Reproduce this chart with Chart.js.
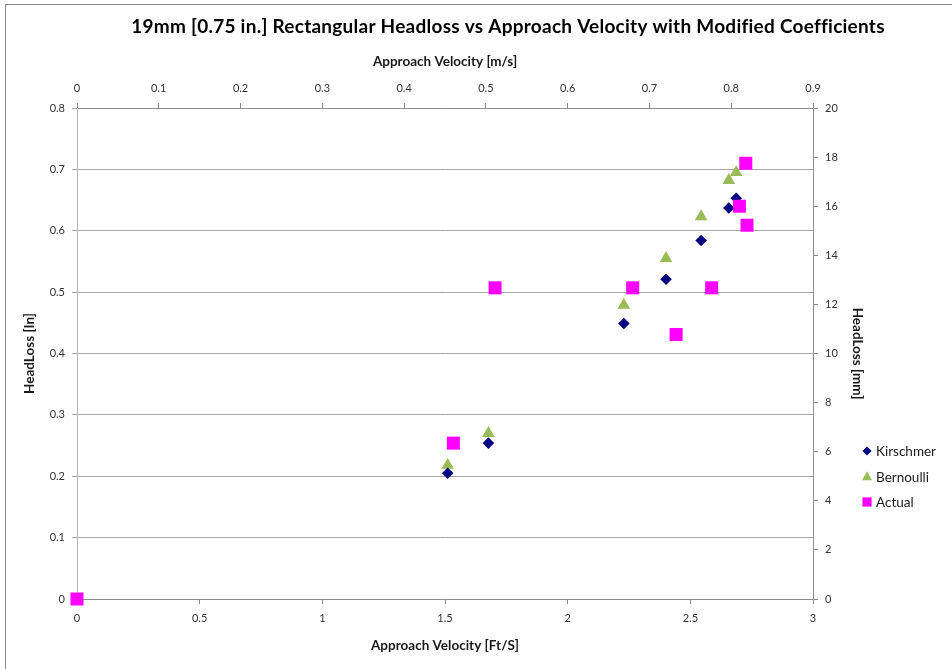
<!DOCTYPE html>
<html>
<head>
<meta charset="utf-8">
<script src="https://cdn.jsdelivr.net/npm/chart.js@4.4.1/dist/chart.umd.min.js"></script>
<style>
  html, body { margin: 0; padding: 0; background: #ffffff; }
  #wrap { position: relative; width: 952px; height: 669px; }
  canvas { display: block; }
</style>
</head>
<body>
<div id="wrap"><canvas id="chart" width="952" height="669"></canvas></div>
<script>
// Approach velocity [ft/s] shared by both predicted series
const predVelocity = [1.511, 1.677, 2.229, 2.401, 2.544, 2.657, 2.687];
// Predicted head loss [in]
const kirschmer = [0.205, 0.254, 0.449, 0.521, 0.584, 0.637, 0.653];
const bernoulli = [0.218, 0.270, 0.479, 0.555, 0.623, 0.682, 0.695];
// Measured points: velocity [ft/s] and head loss [in]
const actualVelocity = [0, 1.534, 1.704, 2.265, 2.442, 2.587, 2.726, 2.700, 2.731];
const actualHeadLoss = [0, 0.254, 0.507, 0.507, 0.431, 0.507, 0.710, 0.640, 0.609];

// Axis tick values
const ftTicks = [0, 0.5, 1, 1.5, 2, 2.5, 3];
const msTicks = [0, 0.1, 0.2, 0.3, 0.4, 0.5, 0.6, 0.7, 0.8, 0.9];
const inTicks = [0, 0.1, 0.2, 0.3, 0.4, 0.5, 0.6, 0.7, 0.8];
const mmTicks = [0, 2, 4, 6, 8, 10, 12, 14, 16, 18, 20];

const seriesNames = ['Kirschmer', 'Bernoulli', 'Actual'];
const chartTitle = '19mm [0.75 in.] Rectangular Headloss vs Approach Velocity with Modified Coefficients';

const FONT = 'Lato, "Open Sans", "Liberation Sans", sans-serif';
const navy = '#000080';
const green = '#9BBB59';
const magenta = '#FF00FF';

const toPoints = (xs, ys) => xs.map((x, i) => ({ x: x, y: ys[i] }));
const fixedTicks = list => scale => { scale.ticks = list.map(v => ({ value: v })); };
const plainLabel = v => String(Number(v.toFixed(3)));

function marker(ctx, style, x, y, r, color) {
  ctx.save();
  ctx.fillStyle = color;
  ctx.beginPath();
  if (style === 'rectRot') {
    ctx.moveTo(x, y - r); ctx.lineTo(x + r, y); ctx.lineTo(x, y + r); ctx.lineTo(x - r, y);
  } else if (style === 'triangle') {
    ctx.moveTo(x, y - r); ctx.lineTo(x + r * 0.95, y + r * 0.7); ctx.lineTo(x - r * 0.95, y + r * 0.7);
  } else {
    ctx.rect(x - r, y - r, 2 * r, 2 * r);
  }
  ctx.closePath();
  ctx.fill();
  ctx.restore();
}

// Background, frame, heading and series key
const decor = {
  id: 'decor',
  beforeDraw(chart) {
    const ctx = chart.ctx;
    ctx.save();
    ctx.fillStyle = '#ffffff';
    ctx.fillRect(0, 0, chart.width, chart.height);
    ctx.restore();
  },
  afterDraw(chart) {
    const ctx = chart.ctx;
    ctx.save();
    ctx.strokeStyle = '#8c8c8c';
    ctx.lineWidth = 1;
    ctx.strokeRect(5.5, 4.5, chart.width + 20, chart.height + 20);

    ctx.fillStyle = '#000000';
    ctx.font = 'bold 19px ' + FONT;
    if ('letterSpacing' in ctx) ctx.letterSpacing = '0.25px';
    ctx.textAlign = 'center';
    ctx.textBaseline = 'middle';
    ctx.fillText(chartTitle, 508, 27);
    if ('letterSpacing' in ctx) ctx.letterSpacing = '0px';

    const styles = ['rectRot', 'triangle', 'rect'];
    const colors = [navy, green, magenta];
    const sizes = [4.6, 5.2, 4.6];
    ctx.font = '13.5px ' + FONT;
    ctx.textAlign = 'left';
    seriesNames.forEach((name, i) => {
      const y = 451 + i * 25.5;
      marker(ctx, styles[i], 867, y, sizes[i], colors[i]);
      ctx.fillStyle = '#1a1a1a';
      ctx.fillText(name, 876, y + 1);
    });
    ctx.restore();
  }
};

const tickFont = { family: FONT, size: 11 };
const titleFont = { family: FONT, size: 13.5, weight: 'bold' };

new Chart(document.getElementById('chart'), {
  type: 'scatter',
  data: {
    datasets: [
      { label: seriesNames[0], data: toPoints(predVelocity, kirschmer), pointStyle: 'rectRot',
        pointRadius: 5.8, pointHoverRadius: 5.8, backgroundColor: navy, borderColor: navy, borderWidth: 0,
        order: 1, clip: false, xAxisID: 'x', yAxisID: 'y' },
      { label: seriesNames[1], data: toPoints(predVelocity, bernoulli), pointStyle: 'triangle',
        pointRadius: 7.3, pointHoverRadius: 7.3, backgroundColor: green, borderColor: green, borderWidth: 0,
        order: 2, clip: false, xAxisID: 'x', yAxisID: 'y' },
      { label: seriesNames[2], data: toPoints(actualVelocity, actualHeadLoss), pointStyle: 'rect',
        pointRadius: 9.2, pointHoverRadius: 9.2, backgroundColor: magenta, borderColor: magenta, borderWidth: 0,
        order: 0, clip: false, xAxisID: 'x', yAxisID: 'y' }
    ]
  },
  options: {
    responsive: false,
    animation: false,
    devicePixelRatio: 1,
    layout: { padding: { left: 18, right: 83, top: 50, bottom: 11 } },
    plugins: {
      legend: { display: false },
      title: { display: false },
      tooltip: { enabled: false }
    },
    scales: {
      x: {
        type: 'linear', position: 'bottom', min: 0, max: 3,
        afterBuildTicks: fixedTicks(ftTicks),
        afterFit: s => { s.height = 59; },
        grid: { drawOnChartArea: false, drawTicks: true, tickLength: 5, tickColor: '#8c8c8c' },
        border: { color: '#8c8c8c', width: 1 },
        ticks: { font: tickFont, color: '#333333', padding: 8, maxRotation: 0, autoSkip: false, callback: plainLabel },
        title: { display: true, text: 'Approach Velocity [Ft/S]', font: titleFont, color: '#1a1a1a', padding: { top: 4, bottom: 4 } }
      },
      x2: {
        type: 'linear', position: 'top', min: 0, max: 0.9,
        afterBuildTicks: fixedTicks(msTicks),
        afterFit: s => { s.height = 58; },
        grid: { drawOnChartArea: false, drawTicks: true, tickLength: 5, tickColor: '#8c8c8c' },
        border: { color: '#8c8c8c', width: 1 },
        ticks: { font: tickFont, color: '#333333', padding: 8, maxRotation: 0, autoSkip: false, callback: plainLabel },
        title: { display: true, text: 'Approach Velocity [m/s]', font: titleFont, color: '#1a1a1a', padding: { top: 4, bottom: 4 } }
      },
      y: {
        type: 'linear', position: 'left', min: 0, max: 0.8,
        afterBuildTicks: fixedTicks(inTicks),
        afterFit: s => { s.width = 59; },
        grid: { drawOnChartArea: true, color: '#a6a6a6', drawTicks: true, tickLength: 5, tickColor: '#a6a6a6' },
        border: { color: '#b4b4b4', width: 1 },
        ticks: { font: tickFont, color: '#333333', padding: 7, autoSkip: false, callback: plainLabel },
        title: { display: true, text: 'HeadLoss [In]', font: titleFont, color: '#1a1a1a', padding: { top: 4, bottom: 4 } }
      },
      y2: {
        type: 'linear', position: 'right', min: 0, max: 20,
        afterBuildTicks: fixedTicks(mmTicks),
        afterFit: s => { s.width = 56; },
        grid: { drawOnChartArea: false, drawTicks: true, tickLength: 5, tickColor: '#8c8c8c' },
        border: { color: '#8c8c8c', width: 1 },
        ticks: { font: tickFont, color: '#333333', padding: 7, autoSkip: false, callback: plainLabel },
        title: { display: true, text: 'HeadLoss [mm]', font: titleFont, color: '#1a1a1a', padding: { top: 4, bottom: 4 } }
      }
    }
  },
  plugins: [decor]
});
</script>
</body>
</html>
